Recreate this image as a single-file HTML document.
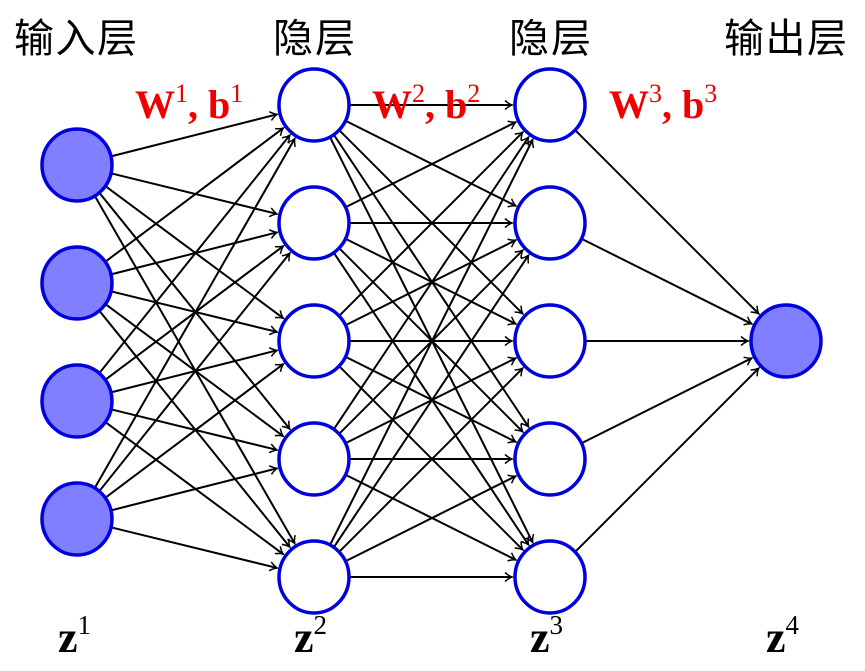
<!DOCTYPE html>
<html><head><meta charset="utf-8"><style>
html,body{margin:0;padding:0;background:#fff;width:865px;height:671px;overflow:hidden}
</style></head><body>
<svg width="865" height="671" viewBox="0 0 865 671" xmlns="http://www.w3.org/2000/svg">
<defs>
<marker id="a" markerWidth="12" markerHeight="12" refX="10" refY="6" orient="auto" markerUnits="userSpaceOnUse">
<path d="M3,1.5 Q7,5 10,6 Q7,7 3,10.5" fill="none" stroke="#000" stroke-width="1.5"/>
</marker>
</defs>
<g id="edges" stroke="#000" stroke-width="2" fill="none" marker-end="url(#a)"></g>
<g id="nodes"></g>
<g font-family="'Noto Sans CJK SC', sans-serif" font-size="40" fill="#000">
<text x="14" y="52" textLength="123">输入层</text>
<text x="273" y="52" textLength="82">隐层</text>
<text x="509" y="52" textLength="82">隐层</text>
<text x="724" y="52" textLength="123">输出层</text>
</g>
<g font-family="'Liberation Serif', serif" font-weight="bold" fill="#e00">
<text x="135" y="118" font-size="40">W<tspan font-size="26" font-weight="normal" dy="-16">1</tspan><tspan dy="16">, b</tspan><tspan font-size="26" font-weight="normal" dy="-16">1</tspan></text>
<text x="372" y="118" font-size="40">W<tspan font-size="26" font-weight="normal" dy="-16">2</tspan><tspan dy="16">, b</tspan><tspan font-size="26" font-weight="normal" dy="-16">2</tspan></text>
<text x="609" y="118" font-size="40">W<tspan font-size="26" font-weight="normal" dy="-16">3</tspan><tspan dy="16">, b</tspan><tspan font-size="26" font-weight="normal" dy="-16">3</tspan></text>
</g>
<g font-family="'Liberation Serif', serif" font-weight="bold" fill="#000" font-size="44">
<text x="58" y="652">z<tspan font-size="27" font-weight="normal" dy="-18">1</tspan></text>
<text x="294" y="652">z<tspan font-size="27" font-weight="normal" dy="-18">2</tspan></text>
<text x="530" y="652">z<tspan font-size="27" font-weight="normal" dy="-18">3</tspan></text>
<text x="766" y="652">z<tspan font-size="27" font-weight="normal" dy="-18">4</tspan></text>
</g>
</svg>
<script>
var L=[{x:77,ys:[165,283,401,519],f:true},{x:314,ys:[105,223,341,459,577]},{x:550,ys:[105,223,341,459,577]},{x:786,ys:[341],f:true}];
var rx=35,ry=36,ns="http://www.w3.org/2000/svg";
var E=document.getElementById('edges'),N=document.getElementById('nodes');
function bp(cx,cy,dx,dy,s){var t=1/Math.sqrt((dx*dx)/(rx*rx)+(dy*dy)/(ry*ry));return [cx+s*dx*t,cy+s*dy*t];}
for(var i=0;i<3;i++){var A=L[i],B=L[i+1];A.ys.forEach(function(y1){B.ys.forEach(function(y2){
var dx=B.x-A.x,dy=y2-y1,l=Math.hypot(dx,dy);
var p=bp(A.x,y1,dx,dy,1),q=bp(B.x,y2,-dx,-dy,1);
q=[q[0]-dx/l*3,q[1]-dy/l*3];
var e=document.createElementNS(ns,'line');e.setAttribute('x1',p[0]);e.setAttribute('y1',p[1]);e.setAttribute('x2',q[0]);e.setAttribute('y2',q[1]);E.appendChild(e);});});}
L.forEach(function(A){A.ys.forEach(function(y){var c=document.createElementNS(ns,'ellipse');c.setAttribute('cx',A.x);c.setAttribute('cy',y);c.setAttribute('rx',rx);c.setAttribute('ry',ry);c.setAttribute('fill',A.f?'#7f7fff':'#fff');c.setAttribute('stroke','#0000dd');c.setAttribute('stroke-width','3.5');N.appendChild(c);});});
</script>
</body></html>
